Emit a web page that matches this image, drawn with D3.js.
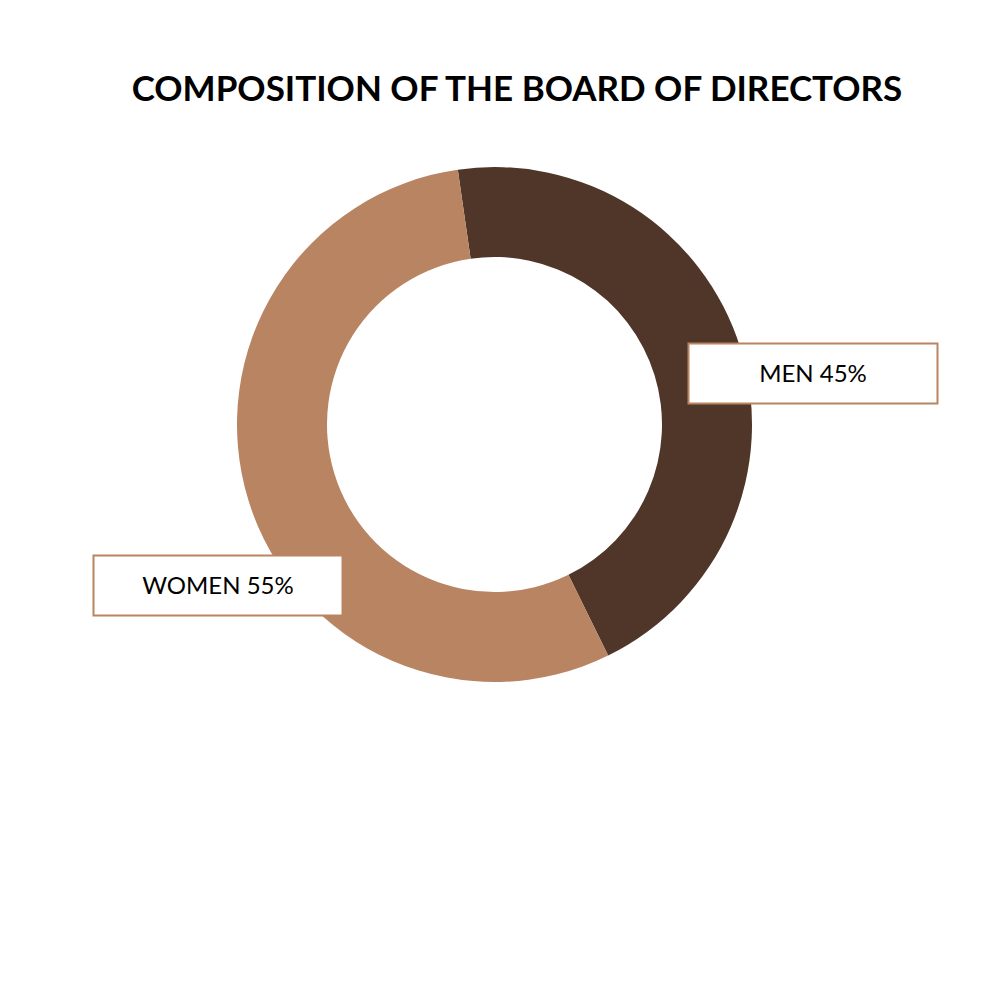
<!DOCTYPE html>
<html>
<head>
<meta charset="utf-8">
<script src="https://cdn.jsdelivr.net/npm/d3@7"></script>
<style>
  html, body { margin: 0; padding: 0; background: #fff; }
  #chart { width: 1000px; height: 1000px; }
</style>
</head>
<body>
<div id="chart"></div>
<script>
  const categories = ['MEN', 'WOMEN'];
  const shares = [45, 55];
  const colors = ['#4f3629', '#b98461'];

  const w = 1000, h = 1000;
  const cx = 494.5, cy = 424.5;
  const outerR = 257.5, innerR = 167.5;
  const startOffset = -0.143; // first slice starts slightly left of 12 o'clock

  const svg = d3.select('#chart')
    .append('svg')
    .attr('width', w)
    .attr('height', h);

  svg.append('text')
    .attr('x', 517)
    .attr('y', 101)
    .attr('text-anchor', 'middle')
    .attr('font-family', 'Lato, "Open Sans", sans-serif')
    .attr('font-size', 35)
    .attr('font-weight', 700)
    .attr('fill', '#000')
    .text('COMPOSITION OF THE BOARD OF DIRECTORS');

  const data = categories.map((c, i) => ({ name: c, value: shares[i], color: colors[i] }));

  const pie = d3.pie()
    .value(d => d.value)
    .sort(null)
    .startAngle(startOffset)
    .endAngle(startOffset + 2 * Math.PI);

  const arc = d3.arc().innerRadius(innerR).outerRadius(outerR);

  const g = svg.append('g').attr('transform', `translate(${cx},${cy})`);

  g.selectAll('path.slice')
    .data(pie(data))
    .enter()
    .append('path')
    .attr('class', 'slice')
    .attr('d', arc)
    .attr('fill', d => d.data.color);

  // label boxes
  const boxW = 249, boxH = 60;
  const boxPos = { MEN: [688.5, 343.5], WOMEN: [93.5, 555.5] };

  const labels = svg.selectAll('g.label')
    .data(data)
    .enter()
    .append('g')
    .attr('class', 'label')
    .attr('transform', d => `translate(${boxPos[d.name][0]},${boxPos[d.name][1]})`);

  labels.append('rect')
    .attr('width', boxW)
    .attr('height', boxH)
    .attr('fill', '#fff')
    .attr('stroke', '#b98461')
    .attr('stroke-width', 2);

  labels.append('text')
    .attr('x', boxW / 2)
    .attr('y', boxH / 2 + 8)
    .attr('text-anchor', 'middle')
    .attr('font-family', 'Lato, "Open Sans", sans-serif')
    .attr('font-size', 24)
    .attr('fill', '#000')
    .text(d => `${d.name} ${d.value}%`);
</script>
</body>
</html>
